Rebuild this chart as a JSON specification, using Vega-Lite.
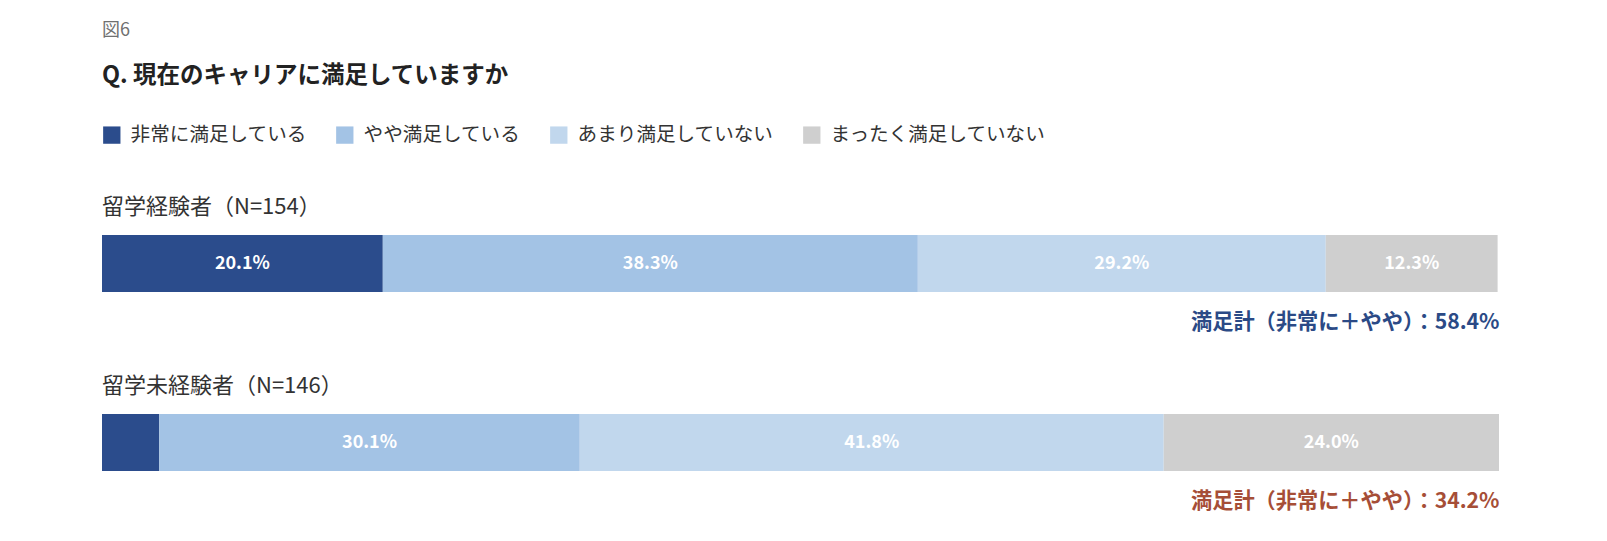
{
  "$schema": "https://vega.github.io/schema/vega-lite/v6.json",
  "background": "white",
  "padding": {"left": 102, "right": 107, "top": 21, "bottom": 10},
  "title": {
    "text": "図6",
    "subtitle": "Q. 現在のキャリアに満足していますか",
    "anchor": "start",
    "frame": "group",
    "font": "Noto Sans CJK JP",
    "fontSize": 18,
    "fontWeight": "normal",
    "color": "#707070",
    "subtitleFont": "Noto Sans CJK JP",
    "subtitleFontSize": 23.5,
    "subtitleFontWeight": "bold",
    "subtitleColor": "#222222",
    "subtitlePadding": 24,
    "offset": 38
  },
  "data": {
    "values": [
      {"group": "留学経験者", "cat": "非常に満足している", "order": 1, "value": 0.201},
      {"group": "留学経験者", "cat": "やや満足している", "order": 2, "value": 0.383},
      {"group": "留学経験者", "cat": "あまり満足していない", "order": 3, "value": 0.292},
      {"group": "留学経験者", "cat": "まったく満足していない", "order": 4, "value": 0.123},
      {"group": "留学未経験者", "cat": "非常に満足している", "order": 1, "value": 0.041},
      {"group": "留学未経験者", "cat": "やや満足している", "order": 2, "value": 0.301},
      {"group": "留学未経験者", "cat": "あまり満足していない", "order": 3, "value": 0.418},
      {"group": "留学未経験者", "cat": "まったく満足していない", "order": 4, "value": 0.240}
    ]
  },
  "spacing": 42,
  "vconcat": [
    {
      "width": 1397,
      "height": 57,
      "title": {"text": "留学経験者（N=154）", "anchor": "start", "font": "Noto Sans CJK JP", "fontSize": 22, "fontWeight": "normal", "color": "#333333", "offset": 16},
      "transform": [{"filter": "datum.group === '留学経験者'"}],
      "encoding": {
        "y": {"field": "group", "type": "nominal", "axis": null, "scale": {"paddingInner": 0, "paddingOuter": 0}},
        "order": {"field": "order", "type": "quantitative"}
      },
      "layer": [
        {
          "mark": {"type": "bar"},
          "encoding": {
            "x": {"field": "value", "type": "quantitative", "stack": "zero", "scale": {"domain": [0, 1], "nice": false},
              "axis": {"title": "満足計（非常に＋やや）：58.4%", "titleAnchor": "end", "titleAlign": "right", "titleColor": "#2b4a86", "titleFont": "Noto Sans CJK JP", "titleFontSize": 21.2, "titleFontWeight": "bold", "labels": false, "ticks": false, "domain": false, "grid": false, "titlePadding": 19}},
            "color": {"field": "cat", "type": "nominal",
              "scale": {"domain": ["非常に満足している", "やや満足している", "あまり満足していない", "まったく満足していない"], "range": ["#2b4c8c", "#a3c3e5", "#c1d7ed", "#cfcfcf"]},
              "legend": {"title": null}}
          }
        },
        {
          "mark": {"type": "text", "color": "white", "font": "Noto Sans CJK JP", "fontSize": 18, "fontWeight": "bold"},
          "encoding": {
            "x": {"field": "value", "type": "quantitative", "stack": "zero", "bandPosition": 0.5},
            "detail": {"field": "cat"},
            "text": {"condition": {"test": "datum.value < 0.05", "value": ""}, "field": "value", "type": "quantitative", "format": ".1%"}
          }
        }
      ]
    },
    {
      "width": 1397,
      "height": 57,
      "title": {"text": "留学未経験者（N=146）", "anchor": "start", "font": "Noto Sans CJK JP", "fontSize": 22, "fontWeight": "normal", "color": "#333333", "offset": 16},
      "transform": [{"filter": "datum.group === '留学未経験者'"}],
      "encoding": {
        "y": {"field": "group", "type": "nominal", "axis": null, "scale": {"paddingInner": 0, "paddingOuter": 0}},
        "order": {"field": "order", "type": "quantitative"}
      },
      "layer": [
        {
          "mark": {"type": "bar"},
          "encoding": {
            "x": {"field": "value", "type": "quantitative", "stack": "zero", "scale": {"domain": [0, 1], "nice": false},
              "axis": {"title": "満足計（非常に＋やや）：34.2%", "titleAnchor": "end", "titleAlign": "right", "titleColor": "#a64e37", "titleFont": "Noto Sans CJK JP", "titleFontSize": 21.2, "titleFontWeight": "bold", "labels": false, "ticks": false, "domain": false, "grid": false, "titlePadding": 19}},
            "color": {"field": "cat", "type": "nominal",
              "scale": {"domain": ["非常に満足している", "やや満足している", "あまり満足していない", "まったく満足していない"], "range": ["#2b4c8c", "#a3c3e5", "#c1d7ed", "#cfcfcf"]},
              "legend": {"title": null}}
          }
        },
        {
          "mark": {"type": "text", "color": "white", "font": "Noto Sans CJK JP", "fontSize": 18, "fontWeight": "bold"},
          "encoding": {
            "x": {"field": "value", "type": "quantitative", "stack": "zero", "bandPosition": 0.5},
            "detail": {"field": "cat"},
            "text": {"condition": {"test": "datum.value < 0.05", "value": ""}, "field": "value", "type": "quantitative", "format": ".1%"}
          }
        }
      ]
    }
  ],
  "resolve": {"scale": {"color": "shared"}},
  "config": {
    "view": {"stroke": null},
    "font": "Noto Sans CJK JP",
    "legend": {
      "orient": "top",
      "direction": "horizontal",
      "symbolType": "square",
      "symbolSize": 300,
      "symbolStrokeWidth": 0,
      "labelFont": "Noto Sans CJK JP",
      "labelFontSize": 19.6,
      "labelLimit": 0,
      "labelColor": "#333333",
      "labelOffset": 9,
      "columnPadding": 28,
      "padding": 0,
      "offset": 51
    }
  }
}
